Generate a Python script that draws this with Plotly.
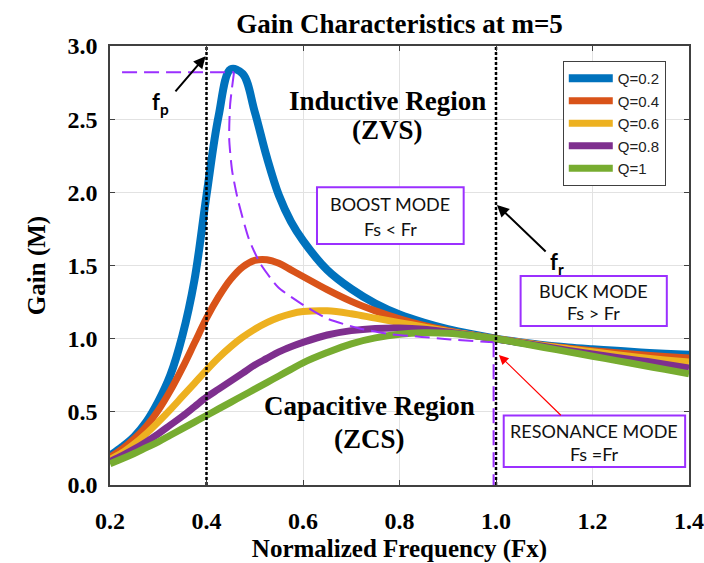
import plotly.graph_objects as go

# Normalised switching frequency Fx = fs / fr
freq = [0.2, 0.225, 0.25, 0.275, 0.3, 0.325, 0.35, 0.375, 0.4, 0.425, 0.45, 0.475,
        0.5, 0.525, 0.55, 0.575, 0.6, 0.65, 0.7, 0.75, 0.8, 0.85, 0.9, 0.95,
        1.0, 1.05, 1.1, 1.15, 1.2, 1.25, 1.3, 1.35, 1.4]

# Gain M for each quality factor Q
gain_q02 = [0.20, 0.26, 0.33, 0.43, 0.57, 0.75, 1.02, 1.40, 1.98, 2.52, 2.84, 2.81,
            2.55, 2.24, 1.98, 1.80, 1.67, 1.47, 1.34, 1.24, 1.165, 1.11, 1.065, 1.03,
            1.0, 0.976, 0.955, 0.94, 0.928, 0.917, 0.906, 0.897, 0.89]
gain_q04 = [0.19, 0.245, 0.315, 0.40, 0.51, 0.645, 0.80, 0.97, 1.14, 1.285, 1.405, 1.49,
            1.535, 1.54, 1.515, 1.47, 1.425, 1.335, 1.255, 1.19, 1.135, 1.09, 1.055, 1.025,
            1.0, 0.975, 0.953, 0.935, 0.918, 0.903, 0.89, 0.878, 0.867]
gain_q06 = [0.175, 0.22, 0.28, 0.35, 0.43, 0.515, 0.605, 0.695, 0.785, 0.87, 0.945, 1.01,
            1.065, 1.11, 1.145, 1.17, 1.185, 1.19, 1.17, 1.14, 1.11, 1.08, 1.05, 1.025,
            1.0, 0.975, 0.951, 0.93, 0.91, 0.89, 0.872, 0.855, 0.84]
gain_q08 = [0.16, 0.20, 0.245, 0.295, 0.35, 0.41, 0.47, 0.535, 0.60, 0.655, 0.71, 0.765,
            0.82, 0.865, 0.91, 0.945, 0.975, 1.025, 1.055, 1.07, 1.073, 1.065, 1.045, 1.023,
            1.0, 0.973, 0.947, 0.92, 0.895, 0.872, 0.85, 0.826, 0.80]
gain_q10 = [0.145, 0.18, 0.215, 0.255, 0.295, 0.34, 0.385, 0.43, 0.475, 0.52, 0.565, 0.61,
            0.655, 0.70, 0.745, 0.79, 0.835, 0.905, 0.965, 1.005, 1.03, 1.04, 1.037, 1.022,
            1.0, 0.97, 0.94, 0.91, 0.88, 0.85, 0.82, 0.79, 0.76]

series_names = ["Q=0.2", "Q=0.4", "Q=0.6", "Q=0.8", "Q=1"]
series_values = [gain_q02, gain_q04, gain_q06, gain_q08, gain_q10]
series_colors = ["#0072BD", "#D95319", "#EDB120", "#7E2F8E", "#77AC30"]

# Locus of peak gain (boundary between ZVS and ZCS regions)
peak_line_x = [0.225, 0.457]
peak_line_y = [2.82, 2.82]
locus_x = [0.457, 0.449, 0.447, 0.453, 0.465, 0.488, 0.512, 0.549, 0.596, 0.648,
           0.717, 0.783, 0.846, 0.905, 0.995]
locus_y = [2.82, 2.60, 2.37, 2.15, 1.95, 1.68, 1.51, 1.35, 1.24, 1.14,
           1.07, 1.03, 1.012, 0.995, 0.975]
res_drop_x = [0.995, 0.995]
res_drop_y = [0.975, 0.0]

x_ticks = [0.2, 0.4, 0.6, 0.8, 1.0, 1.2, 1.4]
y_ticks = [0.0, 0.5, 1.0, 1.5, 2.0, 2.5, 3.0]

fp_freq = 0.4
fr_freq = 1.0

SERIF = "Liberation Serif"
SANS = "Liberation Sans"
BOX_FONT = "Lato"
VIOLET = "#9B30FF"

fig = go.Figure()

for name, vals, col in zip(series_names, series_values, series_colors):
    fig.add_trace(go.Scatter(
        x=freq, y=vals, name=name, mode="lines",
        line=dict(color=col, width=8 if name == "Q=0.2" else 7,
                  shape="spline", smoothing=1.0),
    ))

# vertical markers at fp and fr
for fx in (fp_freq, fr_freq):
    fig.add_trace(go.Scatter(
        x=[fx, fx], y=[0, 3], mode="lines", showlegend=False,
        line=dict(color="black", width=2.5, dash="3px,2px"),
    ))

# peak-gain locus
fig.add_trace(go.Scatter(
    x=peak_line_x, y=peak_line_y, mode="lines", showlegend=False,
    line=dict(color=VIOLET, width=2, dash="15px,7px"),
))
fig.add_trace(go.Scatter(
    x=locus_x, y=locus_y, mode="lines", showlegend=False,
    line=dict(color=VIOLET, width=2, dash="15px,7px", shape="spline", smoothing=0.6),
))
fig.add_trace(go.Scatter(
    x=res_drop_x, y=res_drop_y, mode="lines", showlegend=False,
    line=dict(color=VIOLET, width=2, dash="15px,7px"),
))

# mode boxes: (x0, x1, y0, y1, line1, line2)
boxes = [
    (0.629, 0.933, 1.647, 2.035, "BOOST MODE", "Fs &lt; Fr"),
    (1.051, 1.354, 1.087, 1.429, "BUCK MODE", "Fs &gt; Fr"),
    (1.016, 1.392, 0.123, 0.475, "RESONANCE MODE", "Fs =Fr"),
]
annotations = []
shapes = []
for x0, x1, y0, y1, t1, t2 in boxes:
    shapes.append(dict(type="rect", xref="x", yref="y", x0=x0, x1=x1, y0=y0, y1=y1,
                       line=dict(color=VIOLET, width=2), fillcolor="white", layer="above"))
    xc = (x0 + x1) / 2
    h = y1 - y0
    annotations.append(dict(x=xc, y=y1 - h * 0.30, xref="x", yref="y", text=t1,
                            showarrow=False, font=dict(family=BOX_FONT, size=18, color="#111")))
    annotations.append(dict(x=xc, y=y1 - h * 0.74, xref="x", yref="y", text=t2,
                            showarrow=False, font=dict(family=BOX_FONT, size=18, color="#111")))

region_font = dict(family=SERIF, size=27, color="black", weight="bold")
annotations += [
    dict(x=0.776, y=2.625, xref="x", yref="y", text="Inductive Region", showarrow=False,
         font=region_font),
    dict(x=0.776, y=2.425, xref="x", yref="y", text="(ZVS)", showarrow=False,
         font=region_font),
    dict(x=0.7375, y=0.54, xref="x", yref="y", text="Capacitive Region", showarrow=False,
         font=region_font),
    dict(x=0.7375, y=0.315, xref="x", yref="y", text="(ZCS)", showarrow=False,
         font=region_font),
]

# frequency labels with arrows
label_font = dict(family=BOX_FONT, size=22, color="black", weight="bold")
annotations += [
    dict(x=0.304, y=2.61, xref="x", yref="y", text="f<sub>p</sub>", showarrow=False, font=label_font),
    dict(x=0.398, y=2.93, ax=0.333, ay=2.68, xref="x", yref="y", axref="x", ayref="y",
         text="", showarrow=True, arrowhead=2, arrowsize=1.2, arrowwidth=2, arrowcolor="black"),
    dict(x=1.127, y=1.52, xref="x", yref="y", text="f<sub>r</sub>", showarrow=False, font=label_font),
    dict(x=1.002, y=1.914, ax=1.106, ay=1.586, xref="x", yref="y", axref="x", ayref="y",
         text="", showarrow=True, arrowhead=2, arrowsize=1.2, arrowwidth=2, arrowcolor="black"),
    dict(x=1.006, y=0.889, ax=1.1375, ay=0.467, xref="x", yref="y", axref="x", ayref="y",
         text="", showarrow=True, arrowhead=2, arrowsize=1.6, arrowwidth=1.2, arrowcolor="red"),
]

axis_common = dict(
    showgrid=True, gridcolor="#e2e2e2", gridwidth=1,
    showline=True, linecolor="#404040", linewidth=1.5, mirror="ticks",
    ticks="inside", ticklen=5, tickcolor="#404040", zeroline=False,
    automargin=False,
    tickfont=dict(family=SERIF, size=24, color="black", weight="bold"),
)

fig.update_layout(
    width=704, height=563,
    margin=dict(l=110, r=15, t=46, b=78, autoexpand=False),
    paper_bgcolor="white", plot_bgcolor="white",
    title=dict(text="Gain Characteristics at m=5", x=0.5, xref="paper",
               y=1 - 24 / 563, yref="container", yanchor="middle",
               font=dict(family=SERIF, size=27, color="black", weight="bold")),
    xaxis=dict(range=[0.2, 1.4], tickvals=x_ticks, ticktext=[f"{v:.1f}" for v in x_ticks],
               ticklabelstandoff=13,
               title=dict(text="Normalized Frequency (Fx)",
                          font=dict(family=SERIF, size=25, color="black", weight="bold")),
               **axis_common),
    yaxis=dict(range=[0, 3], tickvals=y_ticks, ticktext=[f"{v:.1f}" for v in y_ticks],
               ticklabelstandoff=6,
               title=dict(text="Gain (M)",
                          font=dict(family=SERIF, size=25, color="black", weight="bold")),
               **axis_common),
    legend=dict(x=0.782, y=0.966, xanchor="left", yanchor="top",
                bgcolor="white", bordercolor="#404040", borderwidth=1,
                font=dict(family=SANS, size=15, color="#222"), itemwidth=44,
                tracegroupgap=0),
    shapes=shapes,
    annotations=annotations,
    showlegend=True,
)

fig.write_html("out.html")
